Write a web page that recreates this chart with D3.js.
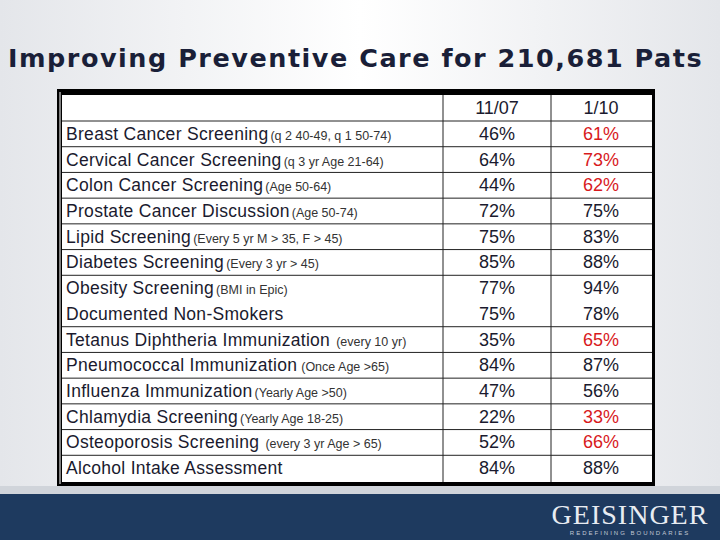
<!DOCTYPE html>
<html><head><meta charset="utf-8">
<script src="https://cdn.jsdelivr.net/npm/d3@7"></script>
<style>body{margin:0}svg{display:block}</style></head>
<body><svg id="c" width="720" height="540"></svg>
<script>
const measures = ["Breast Cancer Screening","Cervical Cancer Screening","Colon Cancer Screening","Prostate Cancer Discussion","Lipid Screening","Diabetes Screening","Obesity Screening","Documented Non-Smokers","Tetanus Diphtheria Immunization","Pneumococcal Immunization","Influenza Immunization","Chlamydia Screening","Osteoporosis Screening","Alcohol Intake Assessment"];
const notes = ["(q 2  40-49, q 1 50-74)","(q 3 yr Age 21-64)","(Age 50-64)","(Age 50-74)","(Every 5 yr  M > 35, F > 45)","(Every 3 yr > 45)","(BMI in Epic)","","(every 10 yr)","(Once Age >65)","(Yearly Age >50)","(Yearly Age 18-25)","(every 3 yr Age > 65)",""];
const noteGap = [2,2,2,2,2,2,2,0,6,4,2,2,6,0];
const periods = ["11/07","1/10"];
const v2007 = [46,64,44,72,75,85,77,75,35,84,47,22,52,84];
const v2010 = [61,73,62,75,83,88,94,78,65,87,56,33,66,88];
const highlight = [1,1,1,0,0,0,0,0,1,0,0,1,1,0];

const svg = d3.select("#c");
const defs = svg.append("defs");
const g1 = defs.append("linearGradient").attr("id","bg").attr("x1",0).attr("x2",1).attr("y1",0).attr("y2",0);
g1.append("stop").attr("offset",0).attr("stop-color","#e4e6ea");
g1.append("stop").attr("offset",0.5).attr("stop-color","#ffffff");
g1.append("stop").attr("offset",1).attr("stop-color","#e4e6ea");
svg.append("rect").attr("width",720).attr("height",540).attr("fill","url(#bg)");
svg.append("rect").attr("y",486).attr("width",720).attr("height",8).attr("fill","#d0d4da");
svg.append("rect").attr("y",494).attr("width",720).attr("height",46).attr("fill","#1e3a5f");
svg.append("text").attr("x",630).attr("y",524).attr("text-anchor","middle").attr("fill","#e8ecf2")
  .attr("font-family","Liberation Serif").attr("font-size",28).attr("letter-spacing",1).text("GEISINGER");
svg.append("text").attr("x",630).attr("y",535).attr("text-anchor","middle").attr("fill","#c0c8d4")
  .attr("font-family","Liberation Sans").attr("font-size",6).attr("letter-spacing",2).text("REDEFINING BOUNDARIES");

svg.append("text").attr("x",8).attr("y",67).attr("fill","#1a1f38")
  .attr("font-family","DejaVu Sans").attr("font-weight","bold").attr("font-size",25.5).attr("letter-spacing",1.3)
  .attr("textLength",695).attr("lengthAdjust","spacing").text("Improving Preventive Care for 210,681 Pats");

svg.append("rect").attr("x",57).attr("y",89).attr("width",598).attr("height",397).attr("fill","#000");
svg.append("rect").attr("x",62).attr("y",95).attr("width",590).attr("height",387).attr("fill","#fff");
svg.append("line").attr("x1",60).attr("x2",60).attr("y1",92).attr("y2",484).attr("stroke","#fff").attr("stroke-width",1);

const y = d3.scaleBand().domain(d3.range(measures.length)).range([121,481]);
const x = d3.scaleOrdinal().domain(periods).range([497,601]);
const cols = [62,443,551,652];
const ink = "#1a1a2e";

svg.append("g").selectAll("line").data(d3.range(measures.length).filter(i=>i!==7))
  .join("line").attr("x1",62).attr("x2",652).attr("y1",d=>y(d)).attr("y2",d=>y(d))
  .attr("stroke","#222").attr("stroke-width",1);
svg.append("g").selectAll("line").data(cols.slice(1,3)).join("line")
  .attr("x1",d=>d).attr("x2",d=>d).attr("y1",95).attr("y2",482).attr("stroke","#222");

svg.selectAll(".hdr").data(periods).join("text").attr("x",d=>x(d)).attr("y",114)
  .attr("text-anchor","middle").attr("font-family","Liberation Sans").attr("font-size",18).attr("fill",ink).text(d=>d);

const rows = svg.append("g").selectAll("g").data(d3.range(measures.length)).join("g")
  .attr("transform",d=>`translate(0,${y(d)+y.bandwidth()/2+6})`);
const lbl = rows.append("text").attr("x",66).attr("font-family","Liberation Sans").attr("fill",ink);
lbl.append("tspan").attr("font-size",17.5).attr("letter-spacing",0.3).text(d=>measures[d]);
lbl.append("tspan").attr("font-size",12.5).attr("fill","#333").attr("dx",d=>noteGap[d]).text(d=>notes[d]);
rows.append("text").attr("x",x(periods[0])).attr("text-anchor","middle").attr("font-family","Liberation Sans")
  .attr("font-size",18).attr("fill",ink).text(d=>v2007[d]+"%");
rows.append("text").attr("x",x(periods[1])).attr("text-anchor","middle").attr("font-family","Liberation Sans")
  .attr("font-size",18).attr("fill",d=>highlight[d]?"#d8191c":ink).text(d=>v2010[d]+"%");
</script></body></html>
